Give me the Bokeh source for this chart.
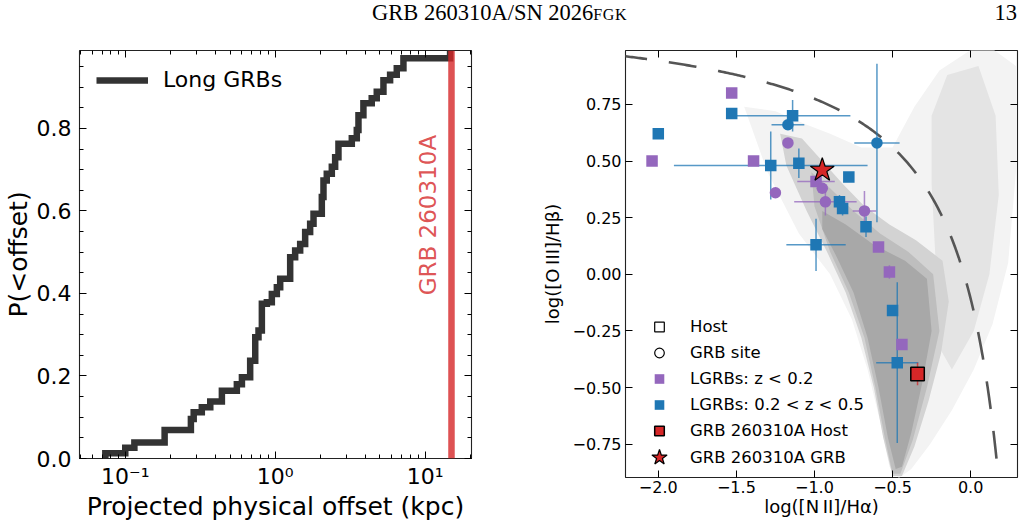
import math
from bokeh.plotting import figure
from bokeh.models import (Range1d, FixedTicker, SingleIntervalTicker, LinearAxis, LogAxis,
                          CustomJSTickFormatter, Legend, LegendItem, Label, Span, ColumnDataSource,
                          Div)
from bokeh.layouts import column, row
from bokeh.embed import file_html
from bokeh.resources import INLINE

FONT = "DejaVu Sans"
SERIF = "Liberation Serif"

# ---------------- header
header_title = "GRB 260310A/SN 2026"
header_smallcaps = "fgk"
page_number = "13"

# ---------------- left panel: cumulative offset distribution of long GRBs
offset_kpc = [0.0736, 0.0736, 0.100, 0.115, 0.183, 0.274, 0.286, 0.324, 0.369, 0.441,
              0.555, 0.600, 0.681, 0.736, 0.774, 0.815, 0.880, 0.950, 1.026, 1.080,
              1.259, 1.359, 1.468, 1.585, 1.711, 1.802, 2.047, 2.100, 2.209, 2.387,
              2.512, 2.643, 3.245, 3.503, 3.594, 3.878, 4.406, 4.760, 5.275, 5.843,
              6.474, 7.171, 14.68]
cdf = [0.0, 0.013, 0.026, 0.039, 0.069, 0.096, 0.112, 0.124, 0.138, 0.164,
       0.180, 0.197, 0.237, 0.294, 0.310, 0.375, 0.379, 0.399, 0.415, 0.436,
       0.488, 0.504, 0.520, 0.549, 0.569, 0.593, 0.634, 0.674, 0.690, 0.707,
       0.730, 0.763, 0.776, 0.796, 0.832, 0.861, 0.873, 0.889, 0.917, 0.930,
       0.946, 0.970, 1.0]
grb_offset_kpc = 15.0
grb_name = "GRB 260310A"
grb_label_pos = (10.5, 0.59)
left_xticks = [0.1, 1.0, 10.0]
left_xminor = [0.05, 0.06, 0.07, 0.08, 0.09, 0.2, 0.3, 0.4, 0.5, 0.6, 0.7, 0.8, 0.9,
               2.0, 3.0, 4.0, 5.0, 6.0, 7.0, 8.0, 9.0, 20.0]

# ---------------- right panel: BPT diagram
# LGRB hosts, 0.2 < z < 0.5 (squares, blue)
blue_host_x = [-2.00, -1.53, -1.14, -1.28, -1.10, -0.78, -0.84, -0.82, -0.67, -0.99, -0.50, -0.47]
blue_host_y = [0.62, 0.71, 0.70, 0.48, 0.49, 0.43, 0.32, 0.29, 0.21, 0.13, -0.16, -0.39]
blue_host_xerr = [0, 0, 0.37, 0.62, 0, 0, 0.03, 0.03, 0, 0.19, 0, 0.135]
blue_host_yerr = [0, 0, 0.07, 0.15, 0.065, 0, 0.03, 0.03, 0.045, 0.115, 0, 0.355]
# LGRB sites, 0.2 < z < 0.5 (circles, blue)
blue_site_x = [-1.17, -0.60]
blue_site_y = [0.66, 0.58]
blue_site_xerr = [0.105, 0.145]
blue_site_yerr = [0.0, 0.35]
# LGRB hosts, z < 0.2 (squares, purple)
purple_host_x = [-1.53, -2.04, -1.39, -0.99, -0.59, -0.52, -0.44]
purple_host_y = [0.80, 0.50, 0.50, 0.41, 0.12, 0.01, -0.31]
purple_host_xerr = [0, 0, 0, 0.12, 0, 0, 0]
purple_host_yerr = [0, 0, 0, 0, 0.02, 0.03, 0.02]
# LGRB sites, z < 0.2 (circles, purple)
purple_site_x = [-1.17, -1.25, -0.95, -0.93, -0.68]
purple_site_y = [0.58, 0.36, 0.38, 0.32, 0.28]
purple_site_xerr = [0, 0, 0, 0.20, 0.075]
purple_site_yerr = [0, 0, 0, 0.06, 0.088]
# GRB 260310A
grb_host_x = [-0.34]
grb_host_y = [-0.44]
grb_host_yerr = [0.05]
grb_site_x = [-0.95]
grb_site_y = [0.46]

# SDSS galaxy cloud, outlines (sparse -> dense)
cloud_sparse_x = [-1.45, -1.25, -1.05, -0.90, -0.70, -0.50, -0.36, -0.20, 0.00, 0.15, 0.29, 0.29,
                  0.24, 0.14, 0.02, -0.12, -0.26, -0.38, -0.46, -0.52, -0.58, -0.66, -0.76,
                  -0.90, -1.10, -1.30]
cloud_sparse_y = [0.74, 0.72, 0.66, 0.62, 0.56, 0.56, 0.74, 0.90, 0.99, 0.99, 0.92, 0.45,
                  0.05, -0.22, -0.42, -0.60, -0.75, -0.86, -0.90, -0.85, -0.65, -0.42, -0.20,
                  0.00, 0.18, 0.45]
cloud_agn_x = [-0.15, 0.05, 0.16, 0.18, 0.12, 0.02, -0.12, -0.22, -0.22, -0.25, -0.25]
cloud_agn_y = [0.88, 0.92, 0.70, 0.35, 0.00, -0.25, -0.42, -0.30, 0.00, 0.40, 0.70]
cloud_mid_x = [-1.22, -1.08, -0.95, -0.82, -0.68, -0.52, -0.35, -0.18, -0.14, -0.19, -0.27,
               -0.36, -0.44, -0.50, -0.56, -0.62, -0.70, -0.80, -0.92, -1.05, -1.18]
cloud_mid_y = [0.62, 0.60, 0.50, 0.40, 0.30, 0.22, 0.15, 0.06, -0.12, -0.35, -0.56,
               -0.76, -0.89, -0.89, -0.72, -0.50, -0.28, -0.08, 0.10, 0.28, 0.48]
cloud_semi_x = [-1.02, -0.90, -0.75, -0.58, -0.40, -0.24, -0.20, -0.28, -0.37, -0.45, -0.50,
                -0.55, -0.61, -0.68, -0.78, -0.90, -1.00]
cloud_semi_y = [0.45, 0.38, 0.28, 0.18, 0.10, 0.00, -0.25, -0.50, -0.73, -0.88, -0.88,
                -0.72, -0.50, -0.28, -0.08, 0.10, 0.30]
cloud_dense_x = [-0.95, -0.80, -0.62, -0.42, -0.28, -0.25, -0.31, -0.38, -0.44, -0.48, -0.53,
                 -0.59, -0.66, -0.75, -0.86, -0.95]
cloud_dense_y = [0.28, 0.22, 0.13, 0.06, -0.02, -0.25, -0.48, -0.70, -0.85, -0.86, -0.72,
                 -0.50, -0.28, -0.08, 0.08, 0.20]

# Kewley et al. (2001) maximum-starburst line: y = A / (x - B) + C
KEW_A, KEW_B, KEW_C = 0.61, 0.47, 1.19
KEW_XMIN, KEW_XMAX, KEW_N = -2.25, 0.20, 240

right_xticks = [-2.0, -1.5, -1.0, -0.5, 0.0]
right_yticks = [-0.75, -0.5, -0.25, 0.0, 0.25, 0.5, 0.75]

C_BLUE = "#1f77b4"
C_PURPLE = "#9467bd"
C_RED = "#d62728"
C_LINE = "#333333"


def blank_formatter():
    return CustomJSTickFormatter(code='return "";')


def signed_formatter(decimals):
    return CustomJSTickFormatter(code=f"""
const s = Math.abs(tick).toFixed({decimals});
return (tick < -1e-9 ? "\\u2212" : "") + s;
""")


log_formatter = CustomJSTickFormatter(code="""
const e = Math.round(Math.log10(tick));
const sup = {"-": "\\u207B", "0": "\\u2070", "1": "\\u00B9", "2": "\\u00B2", "3": "\\u00B3"};
return "10" + String(e).split("").map(c => sup[c]).join("");
""")


def style_axis(ax, label_px, major_len, minor_len, standoff, hide=False):
    ax.axis_line_color = None
    ax.major_tick_in = major_len
    ax.major_tick_out = 0
    ax.minor_tick_in = minor_len
    ax.minor_tick_out = 0
    ax.major_tick_line_color = "black"
    ax.minor_tick_line_color = "black" if minor_len > 0 else None
    ax.major_label_text_font = FONT
    ax.major_label_text_color = "black"
    ax.major_label_standoff = standoff
    ax.axis_label_text_font = FONT
    ax.axis_label_text_font_style = "normal"
    ax.axis_label_text_color = "black"
    if hide:
        ax.formatter = blank_formatter()
        ax.major_label_text_font_size = "0px"
    else:
        ax.major_label_text_font_size = f"{label_px}px"


# ---------------- header (running head of the page)
span_style = ("position:absolute; top:2px; font-family:'Liberation Serif', serif; "
              "font-size:22.5px; line-height:1; color:black; white-space:nowrap;")
hdr = Div(width=1026, height=40,
          styles={"margin": "0", "padding": "0"},
          text=(f'<div style="position:relative; width:1026px; height:40px; margin:0; padding:0;">'
                f'<span style="{span_style} left:372px;">{header_title}'
                f'<span style="font-variant:small-caps; letter-spacing:0.6px;">{header_smallcaps}</span></span>'
                f'<span style="{span_style} right:9px;">{page_number}</span></div>'))

# ---------------- left figure
p1 = figure(frame_width=392, frame_height=408, x_axis_type="log",
            x_range=Range1d(0.0495, 20.4), y_range=Range1d(0.0, 0.989),
            min_border_left=76, min_border_right=32, min_border_top=10, min_border_bottom=67,
            output_backend="svg", toolbar_location=None)
p1.grid.visible = False
p1.outline_line_color = "#222222"
p1.outline_line_width = 1.1
p1.background_fill_color = "white"

xt1 = FixedTicker(ticks=left_xticks, minor_ticks=left_xminor)
yt1 = SingleIntervalTicker(interval=0.2, num_minor_ticks=4)
p1.xaxis.ticker = xt1
p1.xaxis.formatter = log_formatter
p1.yaxis.ticker = yt1
p1.yaxis.formatter = signed_formatter(1)
for ax in p1.xaxis:
    style_axis(ax, 22, 7, 4, 5)
    ax.axis_label = "Projected physical offset (kpc)"
    ax.axis_label_text_font_size = "25px"
    ax.axis_label_standoff = 0
for ax in p1.yaxis:
    style_axis(ax, 22, 7, 4, 8)
    ax.axis_label = "P(<offset)"
    ax.axis_label_text_font_size = "25px"
    ax.axis_label_standoff = 1
top1 = LogAxis(ticker=xt1)
style_axis(top1, 0, 7, 4, 0, hide=True)
p1.add_layout(top1, "above")
right1 = LinearAxis(ticker=yt1)
style_axis(right1, 0, 7, 4, 0, hide=True)
p1.add_layout(right1, "right")

src_cdf = ColumnDataSource(data=dict(x=offset_kpc, y=cdf))
r_step = p1.step(x="x", y="y", source=src_cdf, mode="after", line_width=6.5,
                 line_color=C_LINE, line_join="miter")
p1.add_layout(Span(location=grb_offset_kpc, dimension="height", line_color=C_RED,
                   line_alpha=0.8, line_width=6.5))
p1.add_layout(Label(x=grb_label_pos[0], y=grb_label_pos[1], text=grb_name, angle=math.pi / 2,
                    text_font=FONT, text_font_size="23px", text_color=C_RED, text_alpha=0.8,
                    text_align="center", text_baseline="middle"))

leg1 = Legend(items=[LegendItem(label="Long GRBs", renderers=[r_step])],
              location=(17, 366), padding=0, margin=0, border_line_color=None,
              background_fill_alpha=0, glyph_width=52, glyph_height=24, label_standoff=15,
              label_text_font=FONT, label_text_font_size="22px", label_text_color="black")
p1.add_layout(leg1)

# ---------------- right figure
p2 = figure(frame_width=392, frame_height=427,
            x_range=Range1d(-2.21, 0.30), y_range=Range1d(-0.897, 0.988),
            min_border_left=122, min_border_right=12, min_border_top=8, min_border_bottom=50,
            output_backend="svg", toolbar_location=None)
p2.grid.visible = False
p2.outline_line_color = "#222222"
p2.outline_line_width = 1.1

xt2 = FixedTicker(ticks=right_xticks, minor_ticks=[])
yt2 = FixedTicker(ticks=right_yticks, minor_ticks=[])
p2.xaxis.ticker = xt2
p2.xaxis.formatter = signed_formatter(1)
p2.yaxis.ticker = yt2
p2.yaxis.formatter = signed_formatter(2)
for ax in p2.xaxis:
    style_axis(ax, 16, 7, 0, 3)
    ax.axis_label = "log([N\u2009II]/H\u03b1)"
    ax.axis_label_text_font_size = "18px"
    ax.axis_label_standoff = 0
for ax in p2.yaxis:
    style_axis(ax, 16, 7, 0, 4)
    ax.axis_label = "log([O\u2009III]/H\u03b2)"
    ax.axis_label_text_font_size = "18px"
    ax.axis_label_standoff = 6
top2 = LinearAxis(ticker=xt2)
style_axis(top2, 0, 7, 0, 0, hide=True)
p2.add_layout(top2, "above")
right2 = LinearAxis(ticker=yt2)
style_axis(right2, 0, 7, 0, 0, hide=True)
p2.add_layout(right2, "right")

# galaxy cloud
for xs, ys, col in [(cloud_sparse_x, cloud_sparse_y, "#f3f3f3"),
                    (cloud_agn_x, cloud_agn_y, "#e4e4e4"),
                    (cloud_mid_x, cloud_mid_y, "#d3d3d3"),
                    (cloud_semi_x, cloud_semi_y, "#bebebe"),
                    (cloud_dense_x, cloud_dense_y, "#a8a8a8")]:
    p2.patch(x=xs, y=ys, fill_color=col, line_color=None)

# Kewley line
kew_x = [KEW_XMIN + (KEW_XMAX - KEW_XMIN) * i / (KEW_N - 1) for i in range(KEW_N)]
kew_y = [KEW_A / (x - KEW_B) + KEW_C for x in kew_x]
p2.line(kew_x, kew_y, line_color="#555555", line_width=2.6, line_dash="28 22")


def errbars(xs, ys, xerr, yerr, color):
    hx0 = [x - e for x, e in zip(xs, xerr)]
    hx1 = [x + e for x, e in zip(xs, xerr)]
    vy0 = [y - e for y, e in zip(ys, yerr)]
    vy1 = [y + e for y, e in zip(ys, yerr)]
    p2.segment(x0=hx0, y0=ys, x1=hx1, y1=ys, line_color=color, line_width=1.5, line_alpha=0.75)
    p2.segment(x0=xs, y0=vy0, x1=xs, y1=vy1, line_color=color, line_width=1.5, line_alpha=0.75)


errbars(blue_host_x, blue_host_y, blue_host_xerr, blue_host_yerr, C_BLUE)
errbars(blue_site_x, blue_site_y, blue_site_xerr, blue_site_yerr, C_BLUE)
errbars(purple_host_x, purple_host_y, purple_host_xerr, purple_host_yerr, C_PURPLE)
errbars(purple_site_x, purple_site_y, purple_site_xerr, purple_site_yerr, C_PURPLE)
errbars(grb_host_x, grb_host_y, [0.0], grb_host_yerr, C_RED)

r_bh = p2.scatter(blue_host_x, blue_host_y, marker="square", size=11.5, fill_color=C_BLUE, line_color=None)
r_bs = p2.scatter(blue_site_x, blue_site_y, marker="circle", size=11.5, fill_color=C_BLUE, line_color=None)
r_ph = p2.scatter(purple_host_x, purple_host_y, marker="square", size=11.5, fill_color=C_PURPLE, line_color=None)
r_ps = p2.scatter(purple_site_x, purple_site_y, marker="circle", size=11.5, fill_color=C_PURPLE, line_color=None)
r_gh = p2.scatter(grb_host_x, grb_host_y, marker="square", size=13.5, fill_color=C_RED,
                  line_color="black", line_width=1.5)
r_gs = p2.scatter(grb_site_x, grb_site_y, marker="star", size=25, fill_color=C_RED,
                  line_color="black", line_width=1.2)

# legend-only keys (no visible data point)
key_src = ColumnDataSource(data=dict(x=[float("nan")], y=[float("nan")]))
r_host_key = p2.scatter("x", "y", source=key_src, marker="square", fill_color=None,
                        line_color="black", line_width=1.2)
r_site_key = p2.scatter("x", "y", source=key_src, marker="circle", fill_color=None,
                        line_color="black", line_width=1.2)

leg_common = dict(padding=0, margin=0, border_line_color=None, background_fill_alpha=0,
                  label_text_font=FONT, label_text_font_size="16.5px", label_text_color="black")
leg2 = Legend(items=[LegendItem(label="Host", renderers=[r_host_key]),
                     LegendItem(label="GRB site", renderers=[r_site_key]),
                     LegendItem(label="LGRBs: z < 0.2", renderers=[r_ph]),
                     LegendItem(label="LGRBs: 0.2 < z < 0.5", renderers=[r_bh]),
                     LegendItem(label="GRB 260310A Host", renderers=[r_gh])],
              location=(22, 34), glyph_width=24, glyph_height=25, spacing=1, label_standoff=19,
              **leg_common)
leg3 = Legend(items=[LegendItem(label="GRB 260310A GRB", renderers=[r_gs])],
              location=(14, 0), glyph_width=40, glyph_height=40, spacing=0, label_standoff=11,
              **leg_common)
p2.add_layout(leg2)
p2.add_layout(leg3)

layout = column(hdr, row(p1, p2, spacing=0), spacing=0)
open("out.html", "w").write(file_html(layout, INLINE))
